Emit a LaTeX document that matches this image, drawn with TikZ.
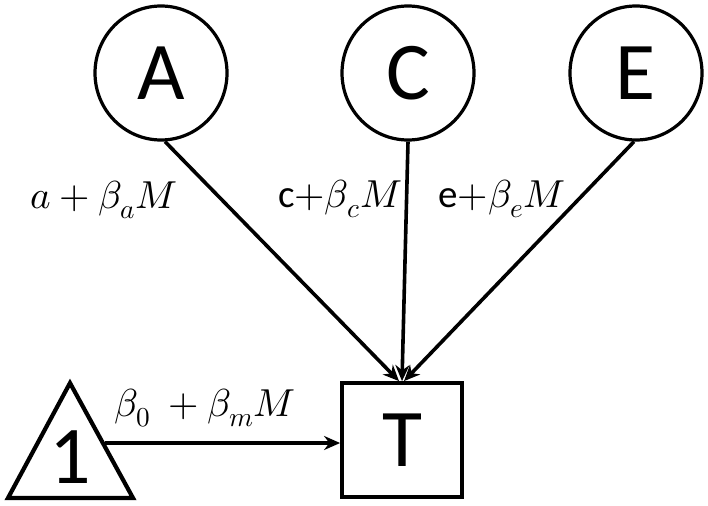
\documentclass[tikz,border=0pt]{standalone}
\usepackage{fontspec}
\usepackage{unicode-math}
\setmainfont{Carlito}
\setmathfont{Latin Modern Math}
\usetikzlibrary{shapes.geometric,arrows.meta}
\begin{document}
\begin{tikzpicture}[x=1pt,y=-1pt,
  var/.style={draw,line width=3.2pt,ellipse,minimum width=132pt,minimum height=134pt,inner sep=0pt,font=\fontsize{82}{90}\selectfont},
  sq/.style={draw,line width=3.8pt,rectangle,minimum width=120pt,minimum height=114pt,inner sep=0pt,font=\fontsize{82}{90}\selectfont},
  arr/.style={line width=3.6pt,-{Stealth[length=16pt,width=14pt]}},
  lab/.style={font=\fontsize{39}{44}\selectfont,inner sep=0pt}]
\useasboundingbox (0,0) rectangle (708,505);
\node[var] (A) at (161,73) {A};
\node[var] (C) at (408,73) {C};
\node[var] (E) at (636,73) {E};
\node[sq] (T) at (402,440) {T};
\draw[line width=4.2pt,line join=miter] (70,383) -- (133,498) -- (8,498) -- cycle;
\node[font=\fontsize{82}{90}\selectfont,inner sep=0pt] (one) at (70,457) {1};
\coordinate (src) at (105,443);
\draw[arr] (src) -- (T.west |- src);
\draw[arr] ([xshift=4pt]A.south) -- ([xshift=-3pt]T.north);
\draw[arr] (C.south) -- (T.north);
\draw[arr] ([xshift=-2pt]E.south) -- ([xshift=2pt]T.north);
\node[lab] (la) at (104,200) {$a + \beta_a M$};
\node[lab] (lc) at (340,199) {c$+\beta_c M$};
\node[lab] (le) at (502,199) {e$+\beta_e M$};
\node[lab] (lm) at (205,408) {$\beta_0\ + \beta_m M$};
\end{tikzpicture}
\end{document}
